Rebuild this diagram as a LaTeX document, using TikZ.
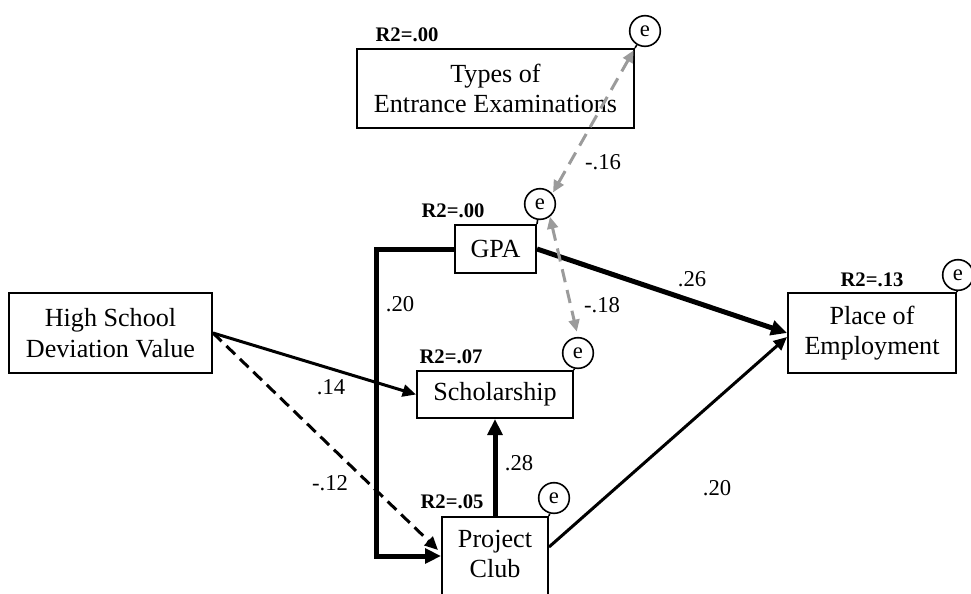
\documentclass[tikz,border=0pt]{standalone}
\usepackage{fontspec}
\setmainfont{Liberation Serif}
\usetikzlibrary{arrows.meta,calc}
\definecolor{covgray}{RGB}{155,155,155}
\newcommand{\pxu}{0.75pt}

\begin{document}
\begin{tikzpicture}[x=0.75pt,y=-0.75pt,
  vartext/.style={inner sep=0pt, align=center, font=\fontsize{19.6}{22.8}\selectfont},
  var/.style={vartext, draw=black, line width=1.5pt},
  rsq/.style={inner sep=0pt, font=\fontsize{15.5}{17}\selectfont\bfseries},
  err/.style={draw, circle, line width=1.2pt, minimum size=23pt, inner sep=0pt,
    font=\fontsize{17}{18}\selectfont},
  tail/.style={line width=1.2pt},
  coef/.style={inner sep=0pt, font=\fontsize{17}{18}\selectfont},
  path strong/.style={line width=3.75pt, -{Triangle[length=12pt,width=11pt]}},
  path mid/.style={line width=2.25pt, -{Triangle[length=10pt,width=9pt]}},
  path neg/.style={path mid, dash pattern=on 9pt off 5pt},
  covar/.style={draw=covgray, line width=2.25pt, dash pattern=on 10pt off 6pt,
    {Triangle[length=9pt,width=8pt]}-{Triangle[length=9pt,width=8pt]}}
]
\path[use as bounding box] (0,0) rectangle (971,593);
\clip (0,0) rectangle (971,593);

% observed variables
\node[var, minimum width=277*\pxu, minimum height=79*\pxu] (types) at (495.5,88.5)
  {Types of\\Entrance Examinations};
\node[var, minimum width=81*\pxu, minimum height=48*\pxu] (gpa) at (495.5,249) {GPA};
\node[var, minimum width=203*\pxu, minimum height=80*\pxu] (hs) at (110.5,333)
  {High School\\Deviation Value};
\node[var, minimum width=156*\pxu, minimum height=47*\pxu] (sch) at (495,394.5) {Scholarship};
\node[var, minimum width=106*\pxu, minimum height=110*\pxu, anchor=north] (pc) at (495,516) {};
\node[vartext] (pctext) at (495,554) {Project\\Club};
\node[var, minimum width=168*\pxu, minimum height=80*\pxu] (place) at (872,333)
  {Place of\\Employment};

% explained variance
\node[rsq] (r2t) at (407,35) {R2=.00};
\node[rsq] (r2g) at (453,211) {R2=.00};
\node[rsq] (r2s) at (451,357) {R2=.07};
\node[rsq] (r2p) at (452,502) {R2=.05};
\node[rsq] (r2e) at (872,280) {R2=.13};

% error terms
\node[err] (te) at (645,31) {e};
\node[err] (ge) at (540,204) {e};
\node[err] (se) at (578,353) {e};
\node[err] (pe) at (554,498) {e};
\node[err] (le) at (958,275) {e};
\draw[tail] (types.north east) -- (te);
\draw[tail] (gpa.north east) -- (ge);
\draw[tail] (sch.north east) -- (se);
\draw[tail] (pc.north east) -- (pe);
\draw[tail] (place.north east) -- (le);

% paths
\coordinate (bend) at (376,249);
\draw[path strong] (gpa.west) -- (bend) |- ($(pc.north west)+(0,40)$);
\draw[path strong] (gpa.east) -- (place.west);
\draw[path strong] (pc.north) -- (sch.south);
\draw[path mid] (hs.east) -- (sch.west);
\draw[path neg] (hs.east) -- ($(pc.north west)+(-3,34)$);
\draw[path mid] ($(pc.north east)+(0,31)$) -- ($(place.west)+(0,4)$);

% residual covariances
\draw[covar, shorten <=1pt, shorten >=2pt] (ge.40) -- (types.north east);
\draw[covar, shorten >=4pt] (ge.-52) -- (se.north);

% coefficients
\node[coef] (c1) at (400,304) {.20};
\node[coef] (c2) at (331,387) {.14};
\node[coef] (c3) at (330,483) {-.12};
\node[coef] (c4) at (519,463) {.28};
\node[coef] (c5) at (692,279) {.26};
\node[coef] (c6) at (602,305) {-.18};
\node[coef] (c7) at (603,162) {-.16};
\node[coef] (c8) at (717,488) {.20};
\end{tikzpicture}
\end{document}
